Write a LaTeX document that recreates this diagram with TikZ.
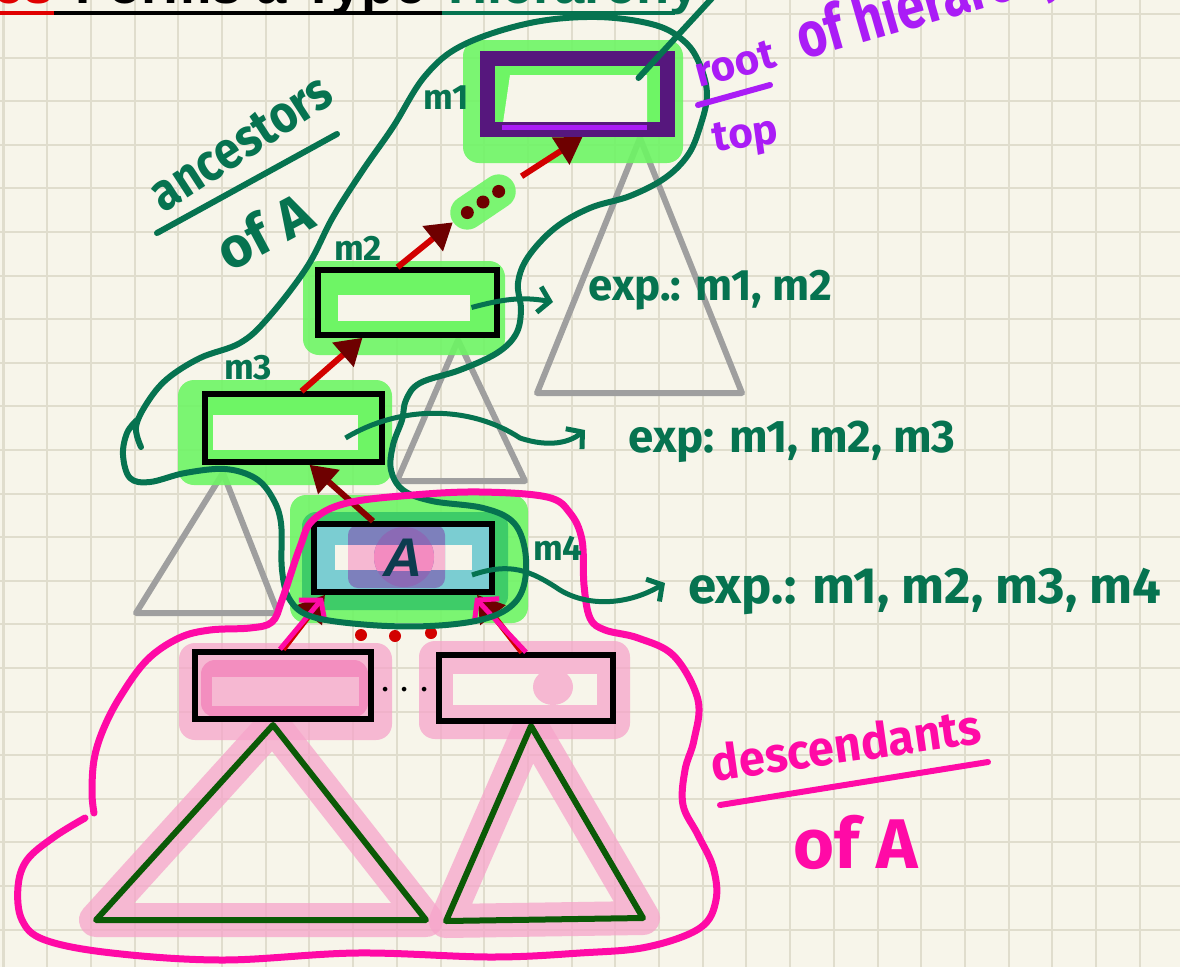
\documentclass[tikz,border=0pt]{standalone}
\usepackage{fontspec}
\usepackage{xcolor}
\usepackage{graphicx}
\usepackage{tikz}
\usetikzlibrary{arrows.meta, calc, positioning}
\setmainfont{Fira Sans}
\newfontfamily\titlefont{Liberation Sans}
\newfontfamily\letterfont{Liberation Sans}

\definecolor{paper}{RGB}{247,245,234}
\definecolor{gridline}{RGB}{224,221,205}
\definecolor{halogreen}{RGB}{110,245,101}
\definecolor{halodeep}{RGB}{62,204,104}
\definecolor{inkgreen}{RGB}{6,115,80}
\definecolor{inkpink}{RGB}{255,10,166}
\definecolor{pinkhalo}{RGB}{246,164,202}
\definecolor{kidpink}{RGB}{246,184,210}
\definecolor{pinkblob}{RGB}{243,142,191}
\definecolor{arrowred}{RGB}{210,0,0}
\definecolor{arrowdark}{RGB}{110,0,0}
\definecolor{rootframe}{RGB}{86,23,125}
\definecolor{rootink}{RGB}{170,28,246}
\definecolor{subtree}{RGB}{159,159,159}
\definecolor{desctree}{RGB}{11,90,6}
\definecolor{slotcyan}{RGB}{123,205,210}
\definecolor{slotviolet}{RGB}{125,128,188}
\definecolor{circleviolet}{RGB}{139,106,181}
\definecolor{circlepink}{RGB}{243,139,192}
\definecolor{letterink}{RGB}{13,60,79}
\definecolor{titlered}{RGB}{224,0,0}

\newlength{\pxu}
\setlength{\pxu}{0.02cm}

\tikzset{
    typebox/.style={rectangle, draw=black, line width=5.5\pxu, fill=halogreen, inner sep=0pt},
    slot/.style n args={4}{path picture={\fill[paper] ($(path picture bounding box.center)+(#1,#2)$) rectangle ++(#3,#4);}},
    halo/.style={fill=halogreen, fill opacity=0.9, rounded corners=16\pxu},
    pinkpad/.style={fill=pinkhalo, fill opacity=0.75, rounded corners=16\pxu},
    treehalo/.style={draw=pinkhalo, draw opacity=0.75, line width=34\pxu, line join=round},
    subtri/.style={draw=subtree, line width=6\pxu, line join=round},
    desctri/.style={draw=desctree, line width=6\pxu, line join=round},
    upflow/.style={-{Triangle[length=0.52cm, width=0.62cm, color=arrowdark]}, draw=arrowred, line width=6\pxu},
    pinkflow/.style={-{Straight Barb[length=0.28cm, width=0.68cm]}, draw=inkpink, line width=5\pxu},
    expflow/.style={-{Straight Barb[length=0.22cm, width=0.52cm]}, draw=inkgreen, line width=5\pxu},
    hand/.style={text=inkgreen, inner sep=0pt},
    inkline/.style={line width=6\pxu, line cap=round, line join=round}
}

\begin{document}
\begin{tikzpicture}[x=0.02cm, y=-0.02cm]
    \useasboundingbox (0,0) rectangle (1180,967);
    \clip (0,0) rectangle (1180,967);

    % Squared paper
    \fill[paper] (0,0) rectangle (1180,967);
    \foreach \gx in {0,...,27}
        \draw[gridline, line width=2\pxu] ({3.5+43.7*\gx},0) -- ++(0,967);
    \foreach \gy in {0,...,22}
        \draw[gridline, line width=2\pxu] (0,{14+43.6*\gy}) -- ++(1180,0);

    % Heading, cut by the top edge
    \node[anchor=base east, inner sep=0pt, text=titlered, font=\titlefont\bfseries\fontsize{31}{31}\selectfont] (titlehead) at (54,3) {es};
    \node[anchor=base west, inner sep=0pt, font=\titlefont\bfseries\fontsize{31}{31}\selectfont] (titlemid) at (75,3) {Forms a Type};
    \node[anchor=base west, inner sep=0pt, text=inkgreen, font=\titlefont\bfseries\fontsize{31}{31}\selectfont] (titletail) at (448,3) {Hierarchy};
    \draw[titlered, line width=3.5\pxu] (0,13) -- (54,13);
    \draw[black, line width=3.5\pxu] (54,13) -- (442,13);
    \draw[inkgreen, line width=3.5\pxu] (442,13) -- (675,13);
    \coordinate (titlepoint) at (714,-4);

    % Other subtrees of the ancestors
    \draw[subtri] (640,138) -- (742,393) -- (537,393) -- cycle;
    \draw[subtri] (458,340) -- (525,481) -- (397,481) -- cycle;
    \draw[subtri] (223,473) -- (278,613) -- (136,613) -- cycle;

    % Highlight pads
    \fill[halo] (463,40) rectangle (683,163);
    \fill[halo] (303,261) rectangle (505,355);
    \fill[halo] (178,380) rectangle (392,485);
    \fill[halo] (290,495) rectangle (528,623);
    \fill[halodeep, rounded corners=14\pxu] (302,512) rectangle (508,610);
    \fill[pinkpad] (179,643) rectangle (392,740);
    \fill[pinkpad] (419,641) rectangle (630,739);

    % Subtrees of the descendants
    \draw[treehalo] (273,725) -- (426,920) -- (96,920) -- cycle;
    \draw[treehalo] (531,726) -- (643,918) -- (446,921) -- cycle;
    \draw[desctri] (273,725) -- (426,920) -- (96,920) -- cycle;
    \draw[desctri] (531,726) -- (643,918) -- (446,921) -- cycle;

    % Ancestor chain
    \node[typebox, draw=rootframe, line width=15\pxu, minimum width=180\pxu, minimum height=71\pxu,
        path picture={\fill[paper] ($(path picture bounding box.center)+(-67.5,-19)$) -- ($(path picture bounding box.center)+(69.5,-19)$)
            -- ($(path picture bounding box.center)+(69.5,29)$) -- ($(path picture bounding box.center)+(-74.5,29)$) -- cycle;}] (m1box) at (577.5,94) {};
    \draw[rootink, line width=5\pxu] ($(m1box.south west)+(22,-10)$) -- ($(m1box.south east)+(-28,-10)$);
    \node[typebox, minimum width=179\pxu, minimum height=65\pxu, slot={-69.5}{-7.5}{132}{26}] (m2box) at (407.5,302.5) {};
    \node[typebox, minimum width=177\pxu, minimum height=68\pxu, slot={-80.5}{-13}{145}{35}] (m3box) at (293.5,428) {};
    \node[rotate=34, rectangle, fill=halogreen, fill opacity=0.9, rounded corners=17\pxu,
        minimum width=72\pxu, minimum height=34\pxu] (moredots) at (483,202) {};

    % The type A
    \node[typebox, fill=slotcyan, minimum width=178\pxu, minimum height=68\pxu,
        text=letterink, font=\letterfont\bfseries\itshape\fontsize{31}{31}\selectfont,
        path picture={
            \coordinate (ac) at (path picture bounding box.center);
            \fill[paper] ($(ac)+(-68,-13)$) rectangle ($(ac)+(69,12)$);
            \fill[slotviolet, rounded corners=10\pxu] ($(ac)+(-55,-33)$) rectangle ($(ac)+(42,30)$);
            \fill[kidpink] ($(ac)+(-55,-13)$) rectangle ($(ac)+(42,12)$);
            \fill[circleviolet] ($(ac)+(1,-1)$) circle (30);
            \begin{scope}
                \clip ($(ac)+(-55,-13)$) rectangle ($(ac)+(42,12)$);
                \fill[circlepink] ($(ac)+(1,-1)$) circle (30);
            \end{scope}
        }] (abox) at (403,558) {A};

    % Children of A
    \node[typebox, fill=kidpink, minimum width=176\pxu, minimum height=67\pxu,
        path picture={
            \fill[pinkblob, rounded corners=14\pxu] ($(path picture bounding box.center)+(-82,-25.5)$) rectangle ($(path picture bounding box.center)+(85,31.5)$);
            \fill[kidpink] ($(path picture bounding box.center)+(-71,-8.5)$) rectangle ++(147,29);
        }] (leftkid) at (283,685.5) {};
    \node[typebox, fill=kidpink, minimum width=174\pxu, minimum height=66\pxu,
        path picture={
            \fill[paper] ($(path picture bounding box.center)+(-73,-14)$) rectangle ++(144,31);
            \fill[kidpink] ($(path picture bounding box.center)+(27,-1)$) ellipse (20 and 18);
        }] (rightkid) at (526,688) {};
    \node[inner sep=0pt, font=\fontsize{30}{30}\selectfont] (kiddots) at ($(leftkid.east)!0.5!(rightkid.west)+(0,4)$) {$\cdots$};

    % Links up the hierarchy
    \draw[upflow, draw=arrowdark!75!arrowred] ($(abox.north)+(-30,0)$) -- ($(m3box.south)+(16,0)$);
    \draw[upflow] ($(m3box.north)+(8,0)$) -- ($(m2box.south)+(-45,0)$);
    \draw[upflow] ($(m2box.north)+(-10,0)$) -- (moredots.west);
    \draw[upflow, shorten <=10\pxu] (moredots.east) -- ($(m1box.south)+(5,0)$);
    \fill[arrowdark] (moredots.center) circle (6.5);
    \fill[arrowdark] ($(moredots.center)!0.52!(moredots.west)$) circle (6.5);
    \fill[arrowdark] ($(moredots.center)!0.52!(moredots.east)$) circle (6.5);

    % Links from the children
    \draw[upflow] (leftkid.north) -- ($(abox.south)+(-78,0)$);
    \draw[upflow] ($(rightkid.north)+(-4,0)$) -- ($(abox.south)+(74,0)$);
    \draw[pinkflow] ($(leftkid.north)+(-3,0)$) -- ($(abox.south)+(-80,3)$);
    \draw[pinkflow] (rightkid.north) -- ($(abox.south)+(72,3)$);
    \foreach \dx/\dy in {361/635, 395/636, 431/633}
        \fill[arrowred] (\dx,\dy) circle (6);

    % Ancestor region
    \draw[inkgreen, inkline] plot[smooth, tension=0.6] coordinates {
        (141,447) (136,427) (147,403) (167,379) (200,358) (240,343) (268,318) (307,267) (333,217)
        (363,170) (393,127) (425,76) (463,45) (530,23) (597,17) (655,25) (685,42) (700,65) (707,95)
        (700,127) (688,155) (665,178) (630,196) (590,208) (555,228) (528,257) (518,283) (521,310)
        (516,334) (497,353) (460,370) (420,383) (406,400) (402,420) (393,445) (391,470) (403,490)
        (432,501) (483,508) (513,522) (525,550) (524,585) (510,607) (480,620) (430,626) (370,625)
        (313,617) (290,600) (282,570) (281,523) (272,497) (255,478) (225,469) (185,473) (150,482)
        (130,478) (123,455) (127,433) (137,420)};
    \draw[inkgreen, inkline] ($(m1box.center)+(61,-16)$) -- (titlepoint);

    % Descendant region
    \draw[inkpink, line width=7\pxu, line cap=round, line join=round] plot[smooth, tension=0.6] coordinates {
        (94,813) (92,793) (94,760) (103,730) (120,697) (147,660) (179,638) (210,630) (250,628)
        (272,622) (282,600) (300,547) (313,520) (347,503) (413,495) (480,492) (547,497) (570,513)
        (582,540) (584,585) (590,618) (605,630) (638,638) (674,656) (698,700) (694,740) (685,770)
        (683,805) (698,835) (713,867) (716,900) (700,928) (647,947) (580,953) (491,957) (357,953)
        (223,960) (112,953) (45,940) (22,920) (18,887) (27,860) (54,837) (85,818)};

    % Level names
    \node[hand, font=\bfseries\fontsize{20}{20}\selectfont] (m1tag) at (446,98) {m1};
    \node[hand, font=\bfseries\fontsize{20}{20}\selectfont] (m2tag) at (358,248) {m2};
    \node[hand, font=\bfseries\fontsize{20}{20}\selectfont] (m3tag) at (248,368) {m3};
    \node[hand, font=\bfseries\fontsize{20}{20}\selectfont] (m4tag) at (558,548) {m4};

    % What each type exports
    \node[hand, anchor=base west, font=\bfseries\fontsize{25}{25}\selectfont] (expm2) at (588,300) {exp.: m1, m2};
    \node[hand, anchor=base west, font=\bfseries\fontsize{26}{26}\selectfont] (expm3) at (628,452) {exp: m1, m2, m3};
    \node[hand, anchor=base west, font=\bfseries\fontsize{29}{29}\selectfont] (expm4) at (688,603) {exp.: m1, m2, m3, m4};
    \draw[expflow] ($(m2box.center)+(64,5)$) to[out=15, in=170] ($(expm2.base west)+(-35,2)$);
    \draw[expflow] ($(m3box.center)+(52,10)$) .. controls (400,405) and (470,405) .. (520,438)
        .. controls (550,448) and (570,442) .. ($(expm3.base west)+(-43,-22)$);
    \draw[expflow] ($(abox.center)+(69,17)$) .. controls (510,562) and (530,570) .. (560,590)
        .. controls (590,608) and (630,604) .. ($(expm4.base west)+(-23,-20)$);

    % Side notes
    \node[hand, rotate=33, font=\bfseries\fontsize{30}{30}\selectfont] (anclabel) at (241,143) {\scalebox{0.88}[1]{ancestors}};
    \draw[inkgreen, inkline] (157,233) -- (337,134);
    \node[hand, rotate=28, font=\bfseries\fontsize{32}{32}\selectfont] (ancof) at (264,231) {of A};
    \node[text=rootink, inner sep=0pt, rotate=15, font=\bfseries\fontsize{24}{24}\selectfont] (roottag) at (735,64) {root};
    \draw[rootink, inkline] (698,105) -- (770,85);
    \node[text=rootink, inner sep=0pt, rotate=8, font=\bfseries\fontsize{24}{24}\selectfont] (toptag) at (746,138) {top};
    \node[text=rootink, inner sep=0pt, anchor=base west, rotate=16, font=\bfseries\fontsize{36}{36}\selectfont] (hiertag) at (803,60) {\scalebox{0.8}[1]{of hierarchy!}};
    \node[text=inkpink, inner sep=0pt, rotate=8, font=\bfseries\fontsize{28}{28}\selectfont] (desclabel) at (846,744) {\scalebox{0.95}[1]{descendants}};
    \draw[inkpink, inkline] (720,805) -- (988,762);
    \node[text=inkpink, inner sep=0pt, font=\bfseries\fontsize{40}{40}\selectfont] (descof) at (856,842) {of A};
\end{tikzpicture}
\end{document}
